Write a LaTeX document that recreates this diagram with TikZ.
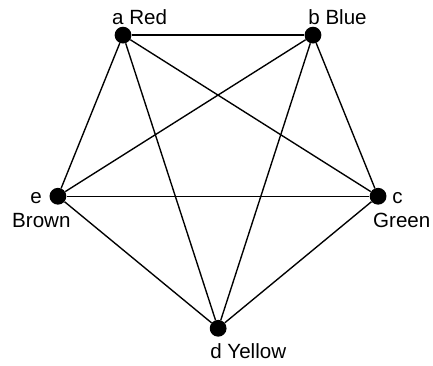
\documentclass[tikz,border=0pt]{standalone}
\usepackage{fontspec}
\setmainfont{Liberation Sans}
\begin{document}
\begin{tikzpicture}[
    vertex/.style={circle, fill=black, inner sep=0pt, minimum size=0.56cm},
    lbl/.style={inner sep=0pt, font=\fontsize{19.5}{22}\selectfont},
    edge/.style={line width=1.3pt, black}
  ]
  \useasboundingbox (0,0) rectangle (14.43,12.17);

  % Sommets
  \node[vertex] (a) at (4.1, 11.0) {};
  \node[vertex] (b) at (10.43, 11.0) {};
  \node[vertex] (c) at (12.6, 5.63) {};
  \node[vertex] (d) at (7.27, 1.23) {};
  \node[vertex] (e) at (1.93, 5.63) {};

  % Noms et couleurs
  \node[lbl, anchor=base west] (la) at (3.73, 11.37) {a Red};
  \node[lbl, anchor=base west] (lb) at (10.27, 11.37) {b Blue};
  \node[lbl, anchor=base west] (lc) at (13.07, 5.4) {c};
  \node[lbl, anchor=base west] (lcc) at (12.43, 4.6) {Green};
  \node[lbl, anchor=base east] (le) at (1.4, 5.4) {e};
  \node[lbl, anchor=base west] (lee) at (0.4, 4.6) {Brown};
  \node[lbl, anchor=base west] (ld) at (7.0, 0.23) {d Yellow};

  % Aretes
  \foreach \u/\v in {a/b, a/c, a/d, a/e, b/c, b/d, b/e, c/d, c/e, d/e}
    \draw[edge] (\u) -- (\v);
\end{tikzpicture}
\end{document}
